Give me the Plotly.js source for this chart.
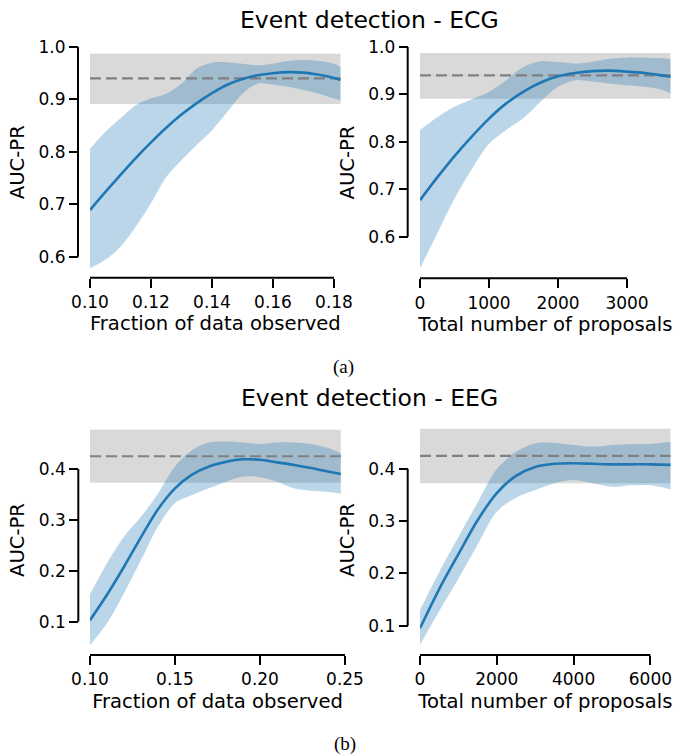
<!DOCTYPE html>
<html><head><meta charset="utf-8">
<script src="https://cdn.plot.ly/plotly-3.0.1.min.js"></script>
<style>html,body{margin:0;padding:0;background:#fff}#chart{width:673px;height:756px}</style>
</head><body><div id="chart"></div>
<script>
// ---------- DATA ----------
// ECG: fraction of data observed
const ecgFracX     = [0.100,0.105,0.110,0.115,0.120,0.125,0.130,0.135,0.140,0.145,0.150,0.155,0.160,0.165,0.170,0.175,0.180,0.1822];
const ecgFracMean  = [0.689,0.723,0.756,0.788,0.818,0.846,0.871,0.893,0.912,0.928,0.939,0.946,0.950,0.952,0.951,0.947,0.941,0.937];
const ecgFracUpper = [0.806,0.838,0.864,0.889,0.902,0.911,0.930,0.959,0.970,0.971,0.968,0.965,0.968,0.973,0.975,0.973,0.968,0.962];
const ecgFracLower = [0.578,0.594,0.619,0.657,0.702,0.752,0.784,0.813,0.841,0.876,0.911,0.930,0.928,0.924,0.918,0.911,0.902,0.898];
// ECG: total number of proposals
const ecgPropX     = [0,250,500,750,1000,1250,1500,1750,2000,2250,2500,2750,3000,3250,3500,3633];
const ecgPropMean  = [0.677,0.725,0.770,0.811,0.849,0.881,0.906,0.925,0.938,0.945,0.949,0.950,0.948,0.945,0.940,0.937];
const ecgPropUpper = [0.825,0.852,0.874,0.890,0.905,0.930,0.958,0.970,0.968,0.965,0.969,0.975,0.978,0.977,0.976,0.974];
const ecgPropLower = [0.533,0.607,0.680,0.742,0.796,0.825,0.850,0.885,0.916,0.930,0.927,0.923,0.919,0.916,0.910,0.902];
// EEG: fraction of data observed
const eegFracX     = [0.10,0.11,0.12,0.13,0.14,0.15,0.16,0.17,0.18,0.19,0.20,0.21,0.22,0.23,0.24,0.2475];
const eegFracMean  = [0.103,0.153,0.208,0.266,0.321,0.362,0.389,0.405,0.414,0.419,0.418,0.413,0.408,0.402,0.395,0.390];
const eegFracUpper = [0.154,0.215,0.267,0.306,0.352,0.405,0.437,0.452,0.454,0.452,0.449,0.452,0.452,0.449,0.441,0.431];
const eegFracLower = [0.054,0.097,0.156,0.221,0.287,0.333,0.349,0.362,0.375,0.385,0.384,0.375,0.362,0.357,0.355,0.352];
// EEG: total number of proposals
const eegPropX     = [0,500,1000,1500,2000,2500,3000,3500,4000,4500,5000,5500,6000,6529];
const eegPropMean  = [0.095,0.170,0.237,0.302,0.354,0.387,0.404,0.410,0.411,0.410,0.409,0.409,0.409,0.408];
const eegPropUpper = [0.130,0.203,0.270,0.336,0.400,0.433,0.449,0.450,0.446,0.443,0.446,0.448,0.448,0.452];
const eegPropLower = [0.063,0.128,0.190,0.255,0.318,0.345,0.360,0.373,0.379,0.373,0.366,0.369,0.369,0.361];
// Baselines (mean and band)
const ecgBaseline = 0.940, ecgBaseLow = 0.891, ecgBaseHigh = 0.987;
const eegBaseline = 0.425, eegBaseLow = 0.373, eegBaseHigh = 0.477;
// Ticks
const ecgYTicks = [0.6,0.7,0.8,0.9,1.0];
const eegYTicks = [0.1,0.2,0.3,0.4];
const ecgFracXTicks = [0.10,0.12,0.14,0.16,0.18];
const ecgPropXTicks = [0,1000,2000,3000];
const eegFracXTicks = [0.10,0.15,0.20,0.25];
const eegPropXTicks = [0,2000,4000,6000];
// Text
const titleECG = 'Event detection - ECG';
const titleEEG = 'Event detection - EEG';
const xLabelFrac = 'Fraction of data observed';
const xLabelProp = 'Total number of proposals';
const yLabel = 'AUC-PR';
const captions = ['(a)', '(b)'];

// ---------- LAYOUT HELPERS ----------
const W = 673, H = 756;
const fx = px => px / W;
const fy = py => 1 - py / H;
const BLUE = '#1f77b4';
const FONT = 'DejaVu Sans';

const panels = [
  {x: ecgFracX, m: ecgFracMean, u: ecgFracUpper, l: ecgFracLower, b: ecgBaseline, bl: ecgBaseLow, bh: ecgBaseHigh,
   xt: ecgFracXTicks, yt: ecgYTicks, xf: '.2f', xl: xLabelFrac,
   xdom: [90, 340.7], ydom: [46.7, 277.7], xr: [ecgFracX[0], ecgFracX[ecgFracX.length-1]], yr: [0.56, 1.0005], ypos: 78},
  {x: ecgPropX, m: ecgPropMean, u: ecgPropUpper, l: ecgPropLower, b: ecgBaseline, bl: ecgBaseLow, bh: ecgBaseHigh,
   xt: ecgPropXTicks, yt: ecgYTicks, xf: 'd', xl: xLabelProp,
   xdom: [420, 670.7], ydom: [46.7, 278.3], xr: [ecgPropX[0], ecgPropX[ecgPropX.length-1]], yr: [0.5124, 1.0005], ypos: 407.7},
  {x: eegFracX, m: eegFracMean, u: eegFracUpper, l: eegFracLower, b: eegBaseline, bl: eegBaseLow, bh: eegBaseHigh,
   xt: eegFracXTicks, yt: eegYTicks, xf: '.2f', xl: xLabelFrac,
   xdom: [90, 345], ydom: [425, 655], xr: [0.10, 0.25], yr: [0.0346, 0.4864], ypos: 78.3},
  {x: eegPropX, m: eegPropMean, u: eegPropUpper, l: eegPropLower, b: eegBaseline, bl: eegBaseLow, bh: eegBaseHigh,
   xt: eegPropXTicks, yt: eegYTicks, xf: 'd', xl: xLabelProp,
   xdom: [420, 670.7], ydom: [425, 655], xr: [eegPropX[0], eegPropX[eegPropX.length-1]], yr: [0.0439, 0.4843], ypos: 407.7}
];

const data = [];
const shapes = [];
const layout = {
  width: W, height: H,
  margin: {l: 0, r: 0, t: 0, b: 0},
  paper_bgcolor: '#fff', plot_bgcolor: 'rgba(0,0,0,0)',
  showlegend: false,
  font: {family: FONT, color: '#000'},
  shapes: shapes,
  annotations: []
};

panels.forEach((p, i) => {
  const n = i + 1;
  const xa = 'x' + (n === 1 ? '' : n), ya = 'y' + (n === 1 ? '' : n);
  const xk = 'xaxis' + (n === 1 ? '' : n), yk = 'yaxis' + (n === 1 ? '' : n);
  const last = p.x.length - 1;
  // grey baseline band
  shapes.push({type: 'rect', xref: xa, yref: ya, x0: p.x[0], x1: p.x[last], y0: p.bl, y1: p.bh,
    fillcolor: 'rgba(128,128,128,0.3)', line: {width: 0}, layer: 'below'});
  // confidence band
  data.push({type: 'scatter', mode: 'lines', x: p.x, y: p.u, xaxis: xa, yaxis: ya,
    line: {width: 0, shape: 'spline', smoothing: 0.9}, hoverinfo: 'skip'});
  data.push({type: 'scatter', mode: 'lines', x: p.x, y: p.l, xaxis: xa, yaxis: ya, fill: 'tonexty',
    fillcolor: 'rgba(31,119,180,0.3)', line: {width: 0, shape: 'spline', smoothing: 0.9}, hoverinfo: 'skip'});
  // baseline dashed
  data.push({type: 'scatter', mode: 'lines', x: [p.x[0], p.x[last]], y: [p.b, p.b], xaxis: xa, yaxis: ya,
    line: {color: 'rgb(128,128,128)', width: 2.2, dash: '11px,5px'}});
  // mean
  data.push({type: 'scatter', mode: 'lines', x: p.x, y: p.m, xaxis: xa, yaxis: ya,
    line: {color: BLUE, width: 2.6, shape: 'spline', smoothing: 0.9}});

  const common = {showline: false, showgrid: false, zeroline: false, ticks: 'outside', ticklen: 9, tickwidth: 2,
    tickcolor: '#000', tickfont: {family: FONT, size: 17, color: '#000'}, fixedrange: true};
  layout[xk] = Object.assign({}, common, {
    anchor: ya, domain: [fx(p.xdom[0]), fx(p.xdom[1])], range: p.xr,
    tickmode: 'array', tickvals: p.xt, tickformat: p.xf,
    title: {text: p.xl, font: {family: FONT, size: 19.6, color: '#000'}, standoff: 5}
  });
  layout[yk] = Object.assign({}, common, {
    anchor: 'free', position: fx(p.ypos), domain: [fy(p.ydom[1]), fy(p.ydom[0])], range: p.yr,
    tickmode: 'array', tickvals: p.yt, tickformat: '.1f',
    title: {text: yLabel, font: {family: FONT, size: 19.6, color: '#000'}, standoff: 7}
  });
  // trimmed spines
  shapes.push({type: 'line', xref: xa, yref: 'paper', x0: p.xt[0], x1: p.xt[p.xt.length-1],
    y0: fy(p.ydom[1]), y1: fy(p.ydom[1]), line: {color: '#000', width: 2}, layer: 'above'});
  shapes.push({type: 'line', xref: 'paper', yref: ya, x0: fx(p.ypos), x1: fx(p.ypos),
    y0: p.yt[0], y1: p.yt[p.yt.length-1], line: {color: '#000', width: 2}, layer: 'above'});
});

layout.annotations.push(
  {text: titleECG, xref: 'paper', yref: 'paper', x: fx(369.5), y: fy(20), xanchor: 'center', yanchor: 'middle',
   showarrow: false, font: {family: FONT, size: 23.5, color: '#000'}},
  {text: titleEEG, xref: 'paper', yref: 'paper', x: fx(369.5), y: fy(398), xanchor: 'center', yanchor: 'middle',
   showarrow: false, font: {family: FONT, size: 23.5, color: '#000'}},
  {text: captions[0], xref: 'paper', yref: 'paper', x: fx(343), y: fy(367), xanchor: 'center', yanchor: 'middle',
   showarrow: false, font: {family: 'Liberation Serif', size: 19, color: '#000'}},
  {text: captions[1], xref: 'paper', yref: 'paper', x: fx(345), y: fy(744), xanchor: 'center', yanchor: 'middle',
   showarrow: false, font: {family: 'Liberation Serif', size: 19, color: '#000'}}
);

Plotly.newPlot('chart', data, layout, {staticPlot: true, displayModeBar: false});
</script></body></html>
